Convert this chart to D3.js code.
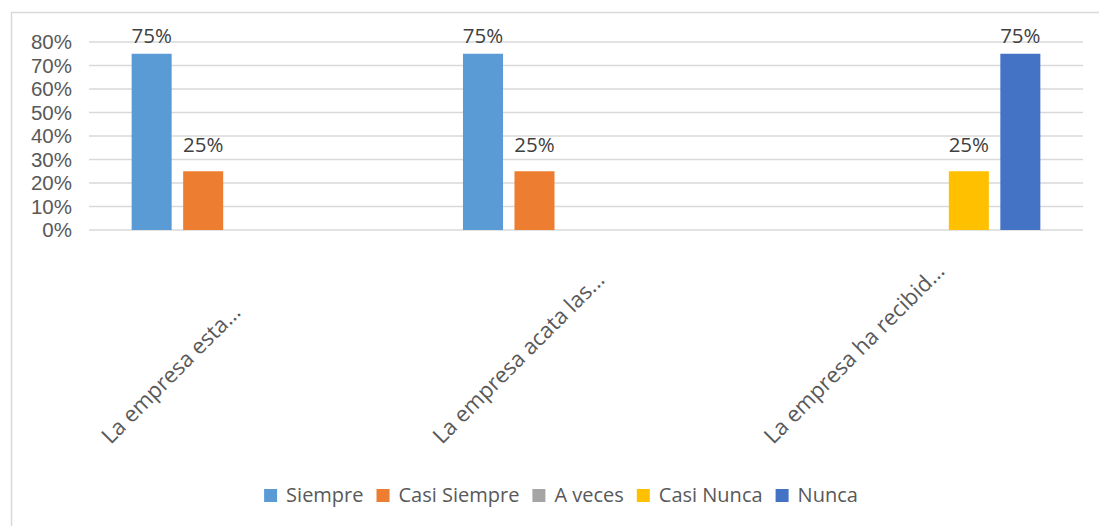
<!DOCTYPE html>
<html>
<head>
<meta charset="utf-8">
<script src="https://cdn.jsdelivr.net/npm/d3@7"></script>
<style>
  body { margin: 0; background: #fff; }
  svg { display: block; font-family: "Open Sans", sans-serif; }
</style>
</head>
<body>
<div class="chart"></div>
<script>
// Data
var categories = ["La empresa esta...", "La empresa acata las...", "La empresa ha recibid..."];
var seriesNames = ["Siempre", "Casi Siempre", "A veces", "Casi Nunca", "Nunca"];
var seriesColors = ["#5b9bd5", "#ed7d31", "#a5a5a5", "#ffc000", "#4472c4"];
// one row per category, one value per series (null = no bar)
var siempre     = [0.75, 0.75, null];
var casiSiempre = [0.25, 0.25, null];
var aVeces      = [null, null, null];
var casiNunca   = [null, null, 0.25];
var nunca       = [null, null, 0.75];
var yTicks = [0, 0.1, 0.2, 0.3, 0.4, 0.5, 0.6, 0.7, 0.8];

var seriesValues = [siempre, casiSiempre, aVeces, casiNunca, nunca];

var svgWidth = 1099, svgHeight = 526;
var margin = {top: 42, right: 16, bottom: 296, left: 89};
var width = svgWidth - margin.left - margin.right;
var height = svgHeight - margin.top - margin.bottom;

var svg = d3.select(".chart")
    .append("svg")
    .attr("width", svgWidth)
    .attr("height", svgHeight);

// chart frame (only left/top edges fall inside the picture)
svg.append("rect")
    .attr("x", 11.5)
    .attr("y", 12.5)
    .attr("width", 1100)
    .attr("height", 530)
    .attr("fill", "none")
    .attr("stroke", "#d9d9d9")
    .attr("stroke-width", 1.5);

var chart = svg.append("g")
    .attr("transform", "translate(" + margin.left + "," + margin.top + ")");

var x0 = d3.scaleBand().domain(categories).range([0, width]);
var x1 = d3.scaleBand().domain(seriesNames).range([0, x0.bandwidth()])
    .paddingInner(0.223).paddingOuter(0.828);
var y = d3.scaleLinear().domain([0, 0.8]).range([height, 0]);

// gridlines
chart.append("g")
    .attr("class", "grid")
    .selectAll("line")
    .data(yTicks)
    .enter().append("line")
    .attr("x1", 0)
    .attr("x2", width)
    .attr("y1", function(d) { return y(d); })
    .attr("y2", function(d) { return y(d); })
    .attr("stroke", "#d9d9d9")
    .attr("stroke-width", 1.5);

// y axis labels
var leftAxis = d3.axisLeft(y)
    .tickValues(yTicks)
    .tickFormat(d3.format(".0%"))
    .tickSize(0)
    .tickPadding(17);

var yAxis = chart.append("g").attr("class", "y-axis").call(leftAxis);
yAxis.select(".domain").remove();
yAxis.selectAll("text")
    .attr("fill", "#595959")
    .style("font-size", "20.5px");

// bars
var rows = categories.map(function(c, i) {
    return seriesNames.map(function(s, j) {
        return {cat: c, series: s, color: seriesColors[j], value: seriesValues[j][i]};
    }).filter(function(d) { return d.value !== null; });
});

var groups = chart.selectAll(".cat")
    .data(rows)
    .enter().append("g")
    .attr("class", "cat")
    .attr("transform", function(d, i) { return "translate(" + x0(categories[i]) + ",0)"; });

groups.selectAll("rect")
    .data(function(d) { return d; })
    .enter().append("rect")
    .attr("x", function(d) { return x1(d.series); })
    .attr("width", x1.bandwidth())
    .attr("y", function(d) { return y(d.value); })
    .attr("height", function(d) { return height - y(d.value); })
    .attr("fill", function(d) { return d.color; });

// data labels above bars (kept inside the top of the plot)
groups.selectAll("text")
    .data(function(d) { return d; })
    .enter().append("text")
    .attr("x", function(d) { return x1(d.series) + x1.bandwidth() / 2; })
    .attr("y", function(d) { return Math.max(y(d.value) - 19, 1); })
    .attr("text-anchor", "middle")
    .attr("fill", "#404040")
    .style("font-size", "20.5px")
    .text(function(d) { return d3.format(".0%")(d.value); });

// rotated category labels
chart.append("g")
    .attr("class", "x-axis")
    .selectAll("text")
    .data(categories)
    .enter().append("text")
    .attr("transform", function(d) {
        var cx = x0(d) + x0.bandwidth() / 2;
        return "translate(" + (cx - 144) + "," + (height + 215) + ") rotate(-45)";
    })
    .attr("text-anchor", "start")
    .attr("fill", "#595959")
    .style("font-size", "22px")
    .text(function(d) { return d; });

// legend
var legend = svg.append("g").attr("class", "legend");
var items = legend.selectAll("g")
    .data(seriesNames)
    .enter().append("g");

items.append("rect")
    .attr("width", 13)
    .attr("height", 13)
    .attr("y", -13)
    .attr("fill", function(d, i) { return seriesColors[i]; });

items.append("text")
    .attr("x", 22)
    .attr("y", 0)
    .attr("fill", "#595959")
    .style("font-size", "20px")
    .text(function(d) { return d; });

var xPos = 0;
items.each(function() {
    var g = d3.select(this);
    g.attr("transform", "translate(" + xPos + ",0)");
    xPos += 22 + g.select("text").node().getComputedTextLength() + 13;
});
var legendWidth = xPos - 13;
legend.attr("transform", "translate(" + (561 - legendWidth / 2) + ",502)");
</script>
</body>
</html>
